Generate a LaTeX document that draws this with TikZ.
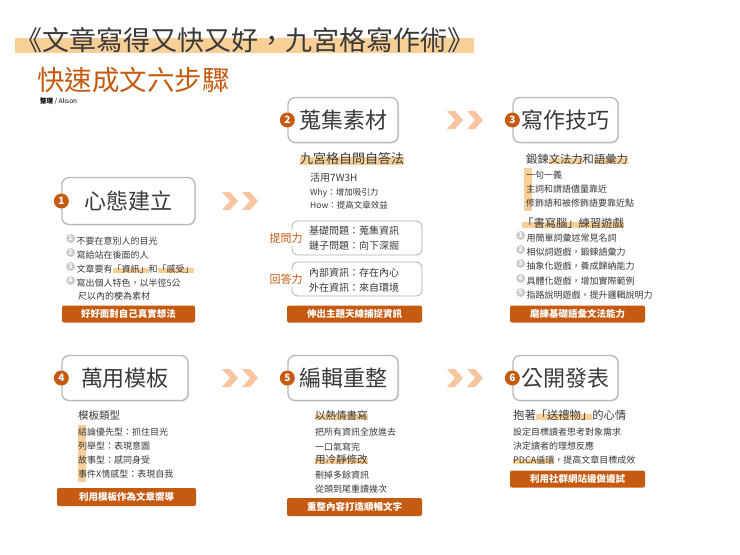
\documentclass[tikz,border=0pt]{standalone}
\usepackage{fontspec}
\setmainfont{Noto Sans CJK TC}
\usetikzlibrary{shadows}
\definecolor{org}{HTML}{C55A11}
\definecolor{hlc}{HTML}{F9CF98}
\definecolor{chev}{HTML}{F7C6A0}
\definecolor{txt}{HTML}{3A3A3A}
\newcommand\fsz[1]{\fontsize{#1}{#1}\selectfont}
\newcommand\hl[1]{\setbox0\hbox{#1}\rlap{\color{hlc}\rule[-0.12em]{\wd0}{0.55em}}\box0}
\newcommand\lc[1]{\tikz[baseline=-0.35em]\node[circle,fill=gray!40,text=white,inner sep=0pt,minimum size=9pt,font=\fsz{6.5}\bfseries]{#1};\,}
\tikzset{
 stepbox/.style={draw=gray!55,line width=1.3pt,rounded corners=7pt,fill=white,drop shadow={opacity=0.2,shadow xshift=1pt,shadow yshift=-1pt},font=\fsz{22},text=txt},
 numc/.style={circle,fill=org,text=white,inner sep=0pt,minimum size=15pt,font=\fsz{10}\bfseries},
 btn/.style={fill=org,rounded corners=2pt,text=white,font=\fsz{9.5}\bfseries,inner sep=0pt},
 tl/.style={anchor=base west,inner sep=0pt,text=txt,font=\fsz{9}},
 ml/.style={anchor=base west,inner sep=0pt,text=txt,font=\fsz{11.3}},
 grp/.style={draw=gray!60,line width=0.8pt,rounded corners=6pt},
 olab/.style={anchor=center,inner sep=0pt,text=org,font=\fsz{11}},
}
\newcommand\chevs[2]{%
 \fill[chev] (#1,#2-9)--(#1+8,#2-9)--(#1+16,#2)--(#1+8,#2+9)--(#1,#2+9)--(#1+8,#2)--cycle;
 \fill[chev] (#1+20,#2-9)--(#1+28,#2-9)--(#1+36,#2)--(#1+28,#2+9)--(#1+20,#2+9)--(#1+28,#2)--cycle;}
\begin{document}
\begin{tikzpicture}[x=1pt,y=-1pt]
\useasboundingbox[fill=white] (0,0) rectangle (740,555);
% titles
\node[anchor=base west,inner sep=0pt,text=txt,font=\fsz{27}] (title) at (15,50) {\hl{《文章寫得又快又好，九宮格寫作術》}};
\node[anchor=base west,inner sep=0pt,text=org,font=\fsz{27.5}] (sub) at (37,90) {快速成文六步驟};
\node[anchor=base west,inner sep=0pt,text=black,font=\fsz{6.5}] (by) at (40,103) {\textbf{整理} / Alison};
% step boxes
\node[stepbox,minimum width=133pt,minimum height=47pt] (s1) at (128.5,201) {心態建立};
\node[stepbox,minimum width=110pt,minimum height=45pt] (s2) at (343,120) {蒐集素材};
\node[stepbox,minimum width=105pt,minimum height=45pt] (s3) at (565.5,120) {寫作技巧};
\node[stepbox,minimum width=126pt,minimum height=45pt] (s4) at (125,378) {萬用模板};
\node[stepbox,minimum width=110pt,minimum height=45pt] (s5) at (343,378) {編輯重整};
\node[stepbox,minimum width=105pt,minimum height=45pt] (s6) at (565.5,378) {公開發表};
\node[numc] (n1) at (s1.west) {1};
\node[numc] (n2) at (s2.west) {2};
\node[numc] (n3) at (s3.west) {3};
\node[numc] (n4) at (s4.west) {4};
\node[numc] (n5) at (s5.west) {5};
\node[numc] (n6) at (s6.west) {6};
\chevs{222}{201}
\chevs{447}{120}
\chevs{222}{378}
\chevs{447}{378}
% step 1
\node[tl] (a1) at (66,244) {\lc{1}不要在意別人的目光};
\node[tl] (a2) at (66,258) {\lc{2}寫給站在後面的人};
\node[tl] (a3) at (66,272) {\lc{3}文章要有\hl{「資訊」}和\hl{「感受」}};
\node[tl] (a4) at (66,286) {\lc{4}寫出個人特色，以半徑5公};
\node[tl] (a5) at (78,299) {尺以內的梗為素材};
\node[btn,minimum width=133pt,minimum height=17pt] (b1) at (128.5,314) {好好面對自己真實想法};
% step 2
\node[anchor=base west,inner sep=0pt,text=txt,font=\fsz{13}] (c0) at (300,163) {\hl{九宮格自問自答法}};
\node[tl,font=\fsz{10}] (c1) at (310,181) {活用7W3H};
\node[tl,font=\fsz{8.5}] (c2) at (310,195) {Why：增加吸引力};
\node[tl,font=\fsz{8.5}] (c3) at (310,208) {How：提高文章效益};
\draw[grp] (292,221) rectangle (422,255);
\node[olab] (q) at (286,238) {\colorbox{white}{提問力}};
\node[tl,font=\fsz{10}] (c4) at (309,234) {基礎問題：蒐集資訊};
\node[tl,font=\fsz{10}] (c5) at (309,249) {鏈子問題：向下深掘};
\draw[grp] (292,262) rectangle (422,296);
\node[olab] (r) at (286,279) {\colorbox{white}{回答力}};
\node[tl,font=\fsz{10}] (c6) at (309,276) {內部資訊：存在內心};
\node[tl,font=\fsz{10}] (c7) at (309,291) {外在資訊：來自環境};
\node[btn,minimum width=135pt,minimum height=17pt] (b2) at (354.5,314) {伸出主題天線捕捉資訊};
% step 3
\fill[hlc] (524,168) rectangle (532,211);
\node[ml] (d0) at (526,163) {鍛鍊\hl{文法力}和\hl{語彙力}};
\node[tl] (d1) at (526,178) {一句一義};
\node[tl] (d2) at (526,192) {主詞和謂語儘量靠近};
\node[tl] (d3) at (526,206) {修飾語和被修飾語要靠近點};
\node[ml] (d4) at (522,227) {\hl{「書寫腦」練習遊戲}};
\node[tl] (d5) at (516,241) {\lc{1}用簡單詞彙述常見名詞};
\node[tl] (d6) at (516,255) {\lc{2}相似詞遊戲，鍛鍊語彙力};
\node[tl] (d7) at (516,269) {\lc{3}抽象化遊戲，養成歸納能力};
\node[tl] (d8) at (516,284) {\lc{4}具體化遊戲，增加實際範例};
\node[tl] (d9) at (516,298) {\lc{5}指路說明遊戲，提升邏輯說明力};
\node[btn,minimum width=135pt,minimum height=17pt] (b3) at (577.5,314) {磨練基礎語彙文法能力};
% step 4
\fill[hlc] (78,425) rectangle (86,482);
\node[tl,font=\fsz{10.5}] (e0) at (78,419) {模板類型};
\node[tl] (e1) at (78,435) {結論優先型：抓住目光};
\node[tl] (e2) at (78,449) {列舉型：表現意圖};
\node[tl] (e3) at (78,463) {故事型：感同身受};
\node[tl] (e4) at (78,477) {事件X情感型：表現自我};
\node[btn,minimum width=139pt,minimum height=18pt] (b4) at (126.5,497) {利用模板作為文章嚮導};
% step 5
\node[tl,font=\fsz{10.5}] (f0) at (315,419) {\hl{以熱情書寫}};
\node[tl] (f1) at (315,435) {把所有資訊全放進去};
\node[tl] (f2) at (315,450) {一口氣寫完};
\node[tl,font=\fsz{10.5}] (f3) at (315,463) {\hl{用冷靜修改}};
\node[tl] (f4) at (315,478) {刪掉多餘資訊};
\node[tl] (f5) at (315,492) {從頭到尾重讀幾次};
\node[btn,minimum width=135pt,minimum height=18pt] (b5) at (354.5,507) {重整內容打造順暢文字};
% step 6
\node[ml] (g0) at (513,419) {抱著\hl{「送禮物」}的心情};
\node[tl] (g1) at (513,435) {設定目標讀者思考對象需求};
\node[tl] (g2) at (513,449) {決定讀者的理想反應};
\node[tl] (g3) at (513,463) {\hl{PDCA循環}，提高文章目標成效};
\node[btn,minimum width=135pt,minimum height=17pt] (b6) at (577.5,479) {利用社群網站邊做邊試};
\end{tikzpicture}
\end{document}
